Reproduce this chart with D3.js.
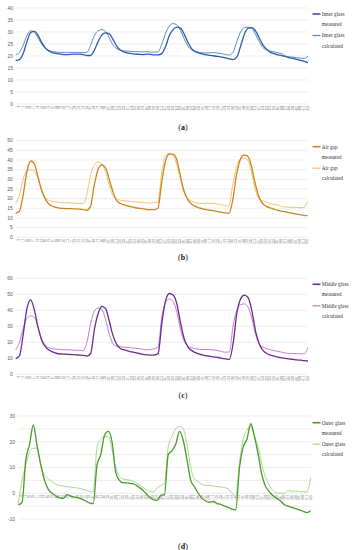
<!DOCTYPE html>
<html><head><meta charset="utf-8">
<script src="https://cdn.jsdelivr.net/npm/d3@7"></script>
<style>html,body{margin:0;padding:0;background:#fff;}svg{display:block;}</style>
</head><body>
<svg id="c" width="356" height="550"></svg>
<script>
const timeLabels = [1,9,17,25,33,41,49,57,65,73,81,89,97,105,113,121,129,137,145,153,161,169,177,185,193,201,209,217,225,233,241,249,257,265,273,281,289,297,305,313,321,329,337,345,353,361,369,377,385,393,401,409,417,425,433,441,449,457,465,473,481,489,497,505,513,521,529,537,545,553,561,569,577,585,593,601,609,617,625];

const innerMeasured = [18.2,18.5,21,26,29.8,30.3,28.5,25.5,23.2,22,21.3,21,20.8,20.6,20.6,20.7,20.8,20.8,20.6,20.2,20.2,22.5,26,28.8,29.6,29.2,26.8,24,22.4,21.6,21.2,21,20.8,20.7,20.6,20.8,20.7,20.5,20.5,21,24,28.5,31,32,31.5,29,25.5,23,21.8,21.2,20.8,20.5,20.3,20,19.8,19.5,19.2,18.8,18.5,19.5,24,29,31.5,31.8,30.5,27.5,24.5,22.8,21.5,21,20.5,20.2,19.8,19.3,19,18.6,18.2,17.8,17.2];
const innerCalculated = [20.5,21.5,24.5,28.5,30.5,29.8,27.5,24.8,23,22.2,21.8,21.6,21.5,21.5,21.5,21.5,21.5,21.5,21.4,21.5,24.5,28.5,30.5,31,30.2,27.5,24.5,23,22.4,22.1,22,21.9,21.8,21.8,21.7,21.8,21.6,21.6,21.8,25,29.5,32.5,33.5,33,30.5,27,24,22.5,21.8,21.5,21.3,21.3,21.4,21.4,21.2,21,20.6,20.4,21.5,26,30,31.8,32,31.5,29,26,23.5,22.5,22,21.7,21.3,21,20,19.7,19.5,19.3,19.1,19,20];

const airMeasured = [12.5,13.5,22,34,39.5,38,31,24,19.5,17,16,15.3,15,14.9,14.8,14.8,14.7,14.6,14.3,14,16,27,35,37.5,36,30,23.5,19,17.5,16.8,16.2,15.8,15.3,15,14.8,14.4,14.3,14.3,15,28,39,43,43,40.5,32,24,19.5,17.2,16,15.2,14.7,14.3,14,13.7,13.3,13,12.6,12.4,19,32,40,42.5,42,37,28,21,17.5,16,15.2,14.6,14,13.6,13.2,12.8,12.4,12,11.7,11.4,11.2];
const airCalculated = [17.5,22,30,34.5,35,34.5,30,24,20.5,19,18.5,18.2,18,18,17.9,17.8,17.6,17.5,17.4,22,32,37.5,39,38,34,27,21.5,19.8,19.2,18.9,18.7,18.5,18.4,18.2,18,17.8,17.7,18,18.2,33,42,43.5,42.5,38,30,23,20,18.8,18,17.6,17.5,17.6,17.6,17.5,17.2,16.8,16.3,16.2,27,36,40.5,41,40,34,25,20,18.8,18.3,17.6,17,16.8,16,15.7,15.6,15.5,15.5,15.4,15.4,18.5];

const middleMeasured = [9.8,11.5,25,41,46.5,40,29,21,17,15,13.8,13,12.7,12.6,12.5,12.3,12.2,12,11.8,11.4,13,28,38,42.5,41,33,24,18.5,16,15.2,14.6,14,13.5,13,12.5,12.2,12,12,13,32,46,50.5,49.5,44,32,22,17,14.8,13.5,12.6,12,11.5,11.2,10.8,10.5,10,9.6,9.3,19,38,47,49.5,48,40,27,19,15,13,12,11.3,10.8,10.3,10,9.6,9.3,9,8.8,8.5,8.3];
const middleCalculated = [15.5,20,29,35,36.5,35.5,29,21.5,18,16.5,16,15.7,15.5,15.4,15.3,15.2,15,15,14.8,20,32,39.5,41.5,40.5,34,25,19,17.5,17.2,17,16.7,16.5,16.3,16,15.6,15.3,15.5,16,17,36,45,47,45.5,39,28,20.5,17.5,16.5,16,15.6,15.5,15.5,15.4,15.2,14.8,14.2,13.8,14,30,40,43.5,44,42,35,25,19,17,16,15.3,14.8,14.3,13.8,13.3,13,13,12.9,12.8,12.8,17];

const outerMeasured = [-4.5,-3.5,13,19,26.5,18.5,11,5,1.5,0,-1,-1.8,-2,-0.5,-1.2,-1.5,-1.8,-2.3,-3,-3.8,-4,11,15,22.5,24,20,8,5,4,4,3.8,3.5,2.5,1.5,0,-1.5,-2.5,-2.8,-0.8,-0.5,15,16.5,19,24,20.5,13,5,2.5,0,-2,-3,-3.5,-3.2,-4,-4.3,-5,-5.5,-6.2,-6.5,10,18,21,27,22,15,7,2.5,0.5,-1,-2,-3,-4.5,-5,-5.5,-6,-6.5,-7,-7.5,-6.8];
const outerCalculated = [-4,5,11,16,17.5,17.5,11,7,5.5,4.5,3.5,3,2.8,2.5,2.4,2.2,2,1.6,1.2,0.8,0.5,18,21,22,22,17,10,6.5,5.5,5.2,5,4.5,3.5,2.5,1.5,0.8,0.5,2,3,4,18,22,25,26,25,19,10,5.5,4.5,3.5,3,3,2.8,2.6,2.5,2.2,1.8,0,-1,12,21,24.5,26,22,18,11,6,3,1,0,0,0,1,0.8,0.8,0.7,0.6,0.5,6];

const legendNames = [["Inner glass","Inner glass"],["Air gap","Air gap"],["Middle glass","Middle glass"],["Outer glass","Outer glass"]];
const captions = ["a","b","c","d"];

const panels = [
  {meas: innerMeasured, calc: innerCalculated, dom:[0,40], lab:d3.range(0,41,5), grid:d3.range(0,41,5),
   top:8, bot:104, x0:15.7, x1:308, labR:13, cm:"#2f5aa6", cc:"#5b8ad4", legY:14, capY:127},
  {meas: airMeasured, calc: airCalculated, dom:[0,50], lab:d3.range(0,51,5), grid:d3.range(0,51,5),
   top:140.7, bot:237.3, x0:15.7, x1:307.5, labR:12.8, cm:"#c8861e", cc:"#f0c47a", legY:146.7, capY:256.7},
  {meas: middleMeasured, calc: middleCalculated, dom:[0,60], lab:d3.range(0,61,10), grid:d3.range(0,61,10),
   top:278.3, bot:374.3, x0:15.7, x1:308, labR:12.8, cm:"#6a2a90", cc:"#c47fd4", legY:284.3, capY:395},
  {meas: outerMeasured, calc: outerCalculated, dom:[-10,30], lab:d3.range(-10,31,10), grid:d3.range(-10,31,5),
   top:416, bot:519, x0:18.3, x1:310.7, labR:15, cm:"#4b9a2a", cc:"#a9d98f", legY:422.7, capY:545.7}
];

const svg = d3.select("#c");
const serif = "'Liberation Serif','DejaVu Serif',serif";
const sans = "'Liberation Sans','DejaVu Sans',sans-serif";

panels.forEach((p, pi) => {
  const g = svg.append("g");
  const y = d3.scaleLinear().domain(p.dom).range([p.bot, p.top]);
  const x = d3.scalePoint().domain(d3.range(timeLabels.length)).range([p.x0, p.x1]);
  g.selectAll("line.grid").data(p.grid).join("line")
    .attr("x1", p.x0).attr("x2", p.x1)
    .attr("y1", d => y(d)).attr("y2", d => y(d))
    .attr("stroke", "#e2e2e2").attr("stroke-width", 0.6);
  g.selectAll("text.yl").data(p.lab).join("text")
    .attr("x", p.labR).attr("y", d => y(d)).attr("dy", "0.35em")
    .attr("text-anchor", "end").attr("font-family", sans).attr("font-size", 5)
    .attr("fill", "#595959").text(d => d);
  const y0 = y(Math.max(0, p.dom[0]));
  g.selectAll("text.xl").data(timeLabels).join("text")
    .attr("transform", (d, i) => `translate(${x(i)+0.8},${y0 + 1.8}) rotate(-90)`)
    .attr("text-anchor", "end").attr("font-family", sans).attr("font-size", 2.6)
    .attr("fill", "#6e6e6e").text(d => d);
  const line = d3.line().x((d, i) => x(i)).y(d => y(d)).curve(d3.curveMonotoneX);
  g.append("path").attr("d", line(p.calc)).attr("fill", "none")
    .attr("stroke", p.cc).attr("stroke-width", 1);
  g.append("path").attr("d", line(p.meas)).attr("fill", "none")
    .attr("stroke", p.cm).attr("stroke-width", 1.3);
  const lg = [[p.cm, legendNames[pi][0], "measured", 1.6], [p.cc, legendNames[pi][1], "calculated", 1.3]];
  lg.forEach((e, k) => {
    const ly = p.legY + k * 21.5;
    g.append("line").attr("x1", 312.5).attr("x2", 320.5).attr("y1", ly).attr("y2", ly)
      .attr("stroke", e[0]).attr("stroke-width", e[3]);
    g.append("text").attr("x", 321.8).attr("y", ly).attr("dy", "0.35em")
      .attr("font-family", serif).attr("font-size", 5.2).attr("fill", "#333").text(e[1]);
    g.append("text").attr("x", 321.8).attr("y", ly + 10.2).attr("dy", "0.35em")
      .attr("font-family", serif).attr("font-size", 5.2).attr("fill", "#333").text(e[2]);
  });
  const cap = g.append("text").attr("x", 183).attr("y", p.capY).attr("dy", "0.35em")
    .attr("text-anchor", "middle").attr("font-family", serif).attr("font-size", 8).attr("fill", "#111");
  cap.append("tspan").text("(");
  cap.append("tspan").attr("font-weight", "bold").text(captions[pi]);
  cap.append("tspan").text(")");
});
</script>
</body></html>
